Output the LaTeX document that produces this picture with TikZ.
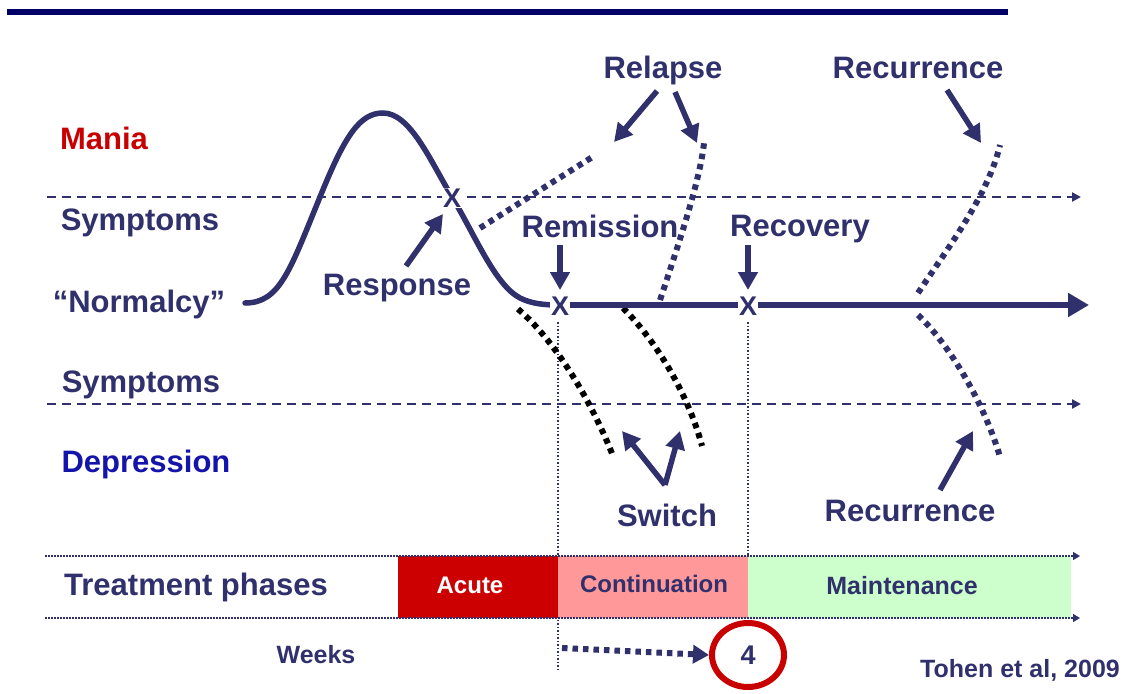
\documentclass[tikz,border=0pt]{standalone}
\usepackage{fontspec}
\setmainfont{Liberation Sans}
\usetikzlibrary{arrows.meta,shapes.geometric}

\definecolor{ink}{RGB}{48,48,108}
\definecolor{barblue}{RGB}{0,0,102}
\definecolor{maniared}{RGB}{200,0,0}
\definecolor{deprblue}{RGB}{20,20,170}
\definecolor{acutefill}{RGB}{204,0,0}
\definecolor{contfill}{RGB}{255,153,153}
\definecolor{maintfill}{RGB}{204,255,204}
\definecolor{circred}{RGB}{200,0,0}

\tikzset{
  lbl/.style={font=\bfseries\fontsize{31}{31}\selectfont, text=ink, anchor=base, inner sep=0pt},
  midlbl/.style={font=\bfseries\fontsize{25}{25}\selectfont, text=ink, anchor=base, inner sep=0pt},
  xmark/.style={font=\bfseries\fontsize{27}{27}\selectfont, text=ink, fill=white, inner sep=1pt},
  course/.style={draw=ink, line width=5.5pt, line cap=round},
  callout/.style={draw=ink, line width=5.5pt, -{Triangle[length=18pt,width=19pt]}},
  sqdots/.style={line width=6pt, dash pattern=on 5.5pt off 5pt},
  level/.style={draw=ink, line width=2.2pt, dash pattern=on 9pt off 6pt, -{Triangle[length=9pt,width=9pt]}},
  guide/.style={draw=ink, line width=1.3pt, dash pattern=on 1.5pt off 2pt},
  phaseline/.style={draw=ink, line width=1.6pt, dash pattern=on 1.5pt off 1.5pt, -{Triangle[length=7pt,width=8pt]}},
}

\begin{document}
\begin{tikzpicture}[x=1pt, y=-1pt]
\useasboundingbox (0,0) rectangle (1131,693);

% heading rule
\fill[barblue] (7,9) rectangle (1008,15);

% symptom thresholds
\coordinate (upL) at (47,197);  \coordinate (upR) at (1081,197);
\coordinate (loL) at (47,404);  \coordinate (loR) at (1081,404);
\draw[level] (upL) -- (upR);
\draw[level] (loL) -- (loR);

% side labels
\node[lbl, text=maniared] (mania) at (104,149) {Mania};
\node[lbl] (symUp) at (140,230) {Symptoms};
\node[lbl] (normal) at (139,312) {“Normalcy”};
\node[lbl] (symLo) at (141,392) {Symptoms};
\node[lbl, text=deprblue] (depr) at (146,472) {Depression};

% phase guides
\coordinate (g1top) at (558,322); \coordinate (g1bot) at (558,672);
\coordinate (g2top) at (748,322); \coordinate (g2bot) at (748,620);
\draw[guide] (g1top) -- (g1bot);
\draw[guide] (g2top) -- (g2bot);

% relapse (dotted, above the course)
\coordinate (rl1a) at (480,228); \coordinate (rl1b) at (594,156);
\draw[ink, sqdots] (rl1a) -- (rl1b);
\coordinate (rl2a) at (660,300); \coordinate (rl2b) at (704,143);
\draw[ink, sqdots] (rl2a) .. controls (680,240) and (700,180) .. (rl2b);

% recurrence (dotted, both directions)
\coordinate (rcUa) at (918,293); \coordinate (rcUb) at (1000,145);
\draw[ink, sqdots] (rcUa) .. controls (950,245) and (988,195) .. (rcUb);
\coordinate (rcLa) at (918,315); \coordinate (rcLb) at (1000,457);
\draw[ink, sqdots] (rcLa) .. controls (950,345) and (985,405) .. (rcLb);

% switch into depression (black dotted)
\coordinate (sw1a) at (518,309); \coordinate (sw1b) at (613,456);
\draw[black, sqdots] (sw1a) .. controls (560,345) and (595,410) .. (sw1b);
\coordinate (sw2a) at (623,308); \coordinate (sw2b) at (702,446);
\draw[black, sqdots] (sw2a) .. controls (660,345) and (690,400) .. (sw2b);

% illness course
\coordinate (start) at (245,303);
\coordinate (axisend) at (1089,305);
\draw[course] (start) .. controls (280,303) and (290,270) .. (320,197)
  .. controls (345,135) and (360,113) .. (383,113)
  .. controls (410,113) and (430,160) .. (452,197)
  .. controls (475,235) and (495,285) .. (520,298)
  .. controls (532,304) and (545,305) .. (560,305);
\draw[draw=ink, line width=5.5pt, -{Triangle[length=21pt,width=23pt]}] (560,305) -- (axisend);

\node[xmark] (xresp) at (452,198) {X};
\node[xmark] (xrem) at (560,306) {X};
\node[xmark] (xrec) at (748,306) {X};

% event labels
\node[lbl] (relapse) at (663,78) {Relapse};
\node[lbl] (recTop) at (918,78) {Recurrence};
\node[lbl] (remission) at (600,237) {Remission};
\node[lbl] (recovery) at (800,236) {Recovery};
\node[lbl] (response) at (397,295) {Response};
\node[lbl] (switch) at (667,526) {Switch};
\node[lbl] (recBot) at (910,521) {Recurrence};

% callout arrows
\coordinate (a1s) at (657,91);  \coordinate (a1e) at (614,142);
\coordinate (a2s) at (675,92);  \coordinate (a2e) at (697,143);
\draw[callout] (a1s) -- (a1e);
\draw[callout] (a2s) -- (a2e);
\coordinate (a3s) at (406,266); \coordinate (a3e) at (443,214);
\draw[callout] (a3s) -- (a3e);
\coordinate (a4s) at (560,245); \coordinate (a4e) at (560,290);
\draw[callout] (a4s) -- (a4e);
\coordinate (a5s) at (748,245); \coordinate (a5e) at (748,290);
\draw[callout] (a5s) -- (a5e);
\coordinate (a6s) at (947,90);  \coordinate (a6e) at (981,143);
\draw[callout] (a6s) -- (a6e);
\coordinate (a7s) at (940,490); \coordinate (a7e) at (973,431);
\draw[callout] (a7s) -- (a7e);
\coordinate (swv) at (665,485);
\coordinate (a8e) at (622,431); \coordinate (a9e) at (680,431);
\draw[callout] (swv) -- (a8e);
\draw[callout] (swv) -- (a9e);

% treatment phases
\fill[acutefill] (398,556) rectangle (558,618);
\fill[contfill] (558,556) rectangle (748,618);
\fill[maintfill] (748,556) rectangle (1071,618);
\coordinate (p1L) at (45,556); \coordinate (p1R) at (1080,556);
\coordinate (p2L) at (45,618); \coordinate (p2R) at (1080,618);
\draw[phaseline] (p1L) -- (p1R);
\draw[phaseline] (p2L) -- (p2R);

\node[lbl, font=\bfseries\fontsize{31}{31}\selectfont] (phases) at (196,595) {Treatment phases};
\node[midlbl, text=white, font=\bfseries\fontsize{24}{24}\selectfont] (acute) at (470,593) {Acute};
\node[midlbl, font=\bfseries\fontsize{24}{24}\selectfont] (cont) at (654,592) {Continuation};
\node[midlbl] (maint) at (902,594) {Maintenance};

% weeks axis
\node[midlbl] (weeks) at (316,663) {Weeks};
\coordinate (wkS) at (562,648);
\node[draw=circred, line width=6pt, ellipse, minimum width=72pt, minimum height=64pt, inner sep=0pt] (four) at (748,655) {};
\node[midlbl, font=\bfseries\fontsize{27}{27}\selectfont] (fourtxt) at (748,664) {4};
\draw[ink, sqdots, -{Triangle[length=16pt,width=18pt]}] (wkS) -- (four.west);

\node[midlbl, font=\bfseries\fontsize{25}{25}\selectfont] (cite) at (1020,677) {Tohen et al, 2009};
\end{tikzpicture}
\end{document}
